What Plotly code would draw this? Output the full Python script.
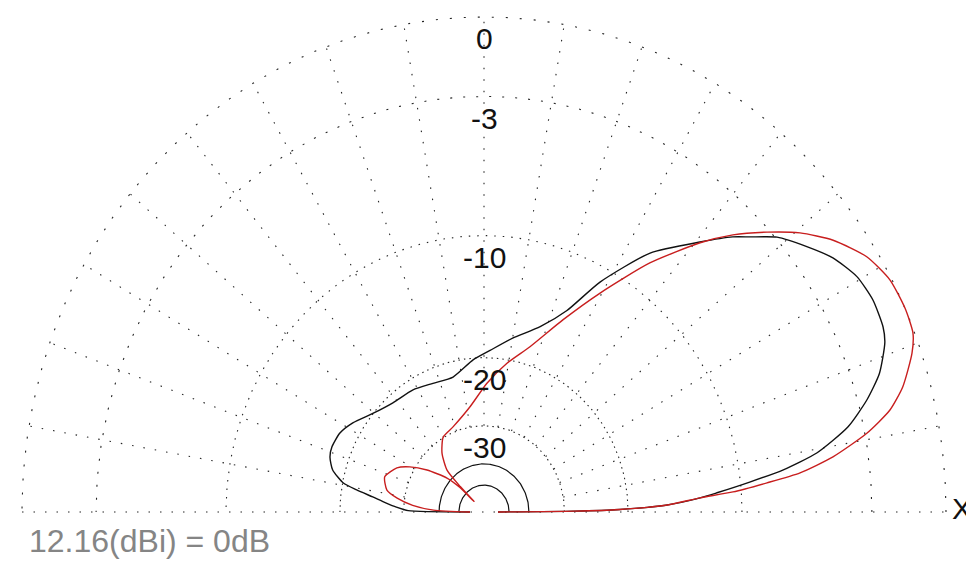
import numpy as np
import plotly.graph_objects as go

# elevation angle (deg) and relative gain (dB) for the two patterns
black_ang = [0, 0.5, 1, 2, 3.5, 4.4, 6.0, 7.5, 9.4, 12.3, 15.3, 18.1, 21.5, 23.4, 27.0,
             30.5, 34.2, 37.5, 41.2, 44.0, 45.9, 49.4, 55.5, 61.6, 66.2, 72.0, 80.0,
             87.7, 94.4, 103.8, 113.0, 121.9, 131.8, 140.2, 147.6, 152.9, 158.2, 161.6,
             165.5, 169.1, 170.8, 172.8, 175.0, 177.0, 179.0, 180]
black_db = [-60, -28, -21, -16, -13.0, -11.7, -9.4, -7.3, -5.4, -3.7, -2.6, -1.8, -1.2, -1.04,
            -0.98, -1.12, -1.56, -2.18, -2.93, -3.83, -4.4, -5.68, -7.8, -10.96, -13.9, -16.0,
            -17.7, -19.2, -20.2, -21.8, -21.7, -21.2, -20.9, -20.0, -18.7, -18.0, -17.8, -17.95,
            -18.6, -20.1, -21.9, -24.3, -26.5, -28.5, -31, -60]

red_ang = [0, 0.5, 1, 2, 3.5, 4.3, 5.5, 6.6, 8.4, 10.9, 13.2, 15.6, 19.1, 21.3, 24.3, 28.1,
           31.9, 36.0, 39.5, 42.7, 46.1, 49.3, 54.5, 60.4, 66.2, 73.4, 80.6, 88.6, 98.1,
           111.3, 120.3, 127.4, 133.4, 135.0, 135.5, 136.5, 139.4, 145.5, 150.4, 154.7,
           161.7, 168.1, 171.5, 175.0, 178.0, 180]
red_db = [-60, -28, -21, -16, -13.0, -10.56, -8.33, -6.4, -4.63, -2.9, -1.76, -1.04, -0.34,
          -0.06, 0, -0.07, -0.42, -1.17, -2.07, -3.12, -4.33, -5.7, -8.26, -11.6, -14.7,
          -18.1, -20.4, -23.1, -26.4, -29.0, -29.9, -32.6, -36.9, -45, -60, -45, -38.6,
          -32.6, -29.0, -26.9, -25.5, -26.4, -28.5, -32, -38, -60]

ring_db = [0, -3, -10, -20, -30]
ring_labels = ["0", "-3", "-10", "-20", "-30"]
ring_dash = ["2px,12px", "2px,11px", "1.5px,7px", "1.5px,4px", "1.5px,4px"]
solid_ring_db = [-40, -50]
spoke_ang = list(range(10, 180, 10))
max_gain = "12.16(dBi) = 0dB"

# page body keeps an 8px margin, so the figure is sized/ranged to sit from pixel 8
CX, CY, SX, SY, OFF = 484, 512, 462, 495, 8


def arrl_r(db):
    # ARRL log scale: radius shrinks by 0.89 every 2 dB
    return 0.89 ** (-np.asarray(db, dtype=float) / 2)


def to_xy(ang, db):
    r = arrl_r(db)
    a = np.radians(ang)
    return r * np.cos(a), r * np.sin(a)


fig = go.Figure()
grid_col = "#262626"

half = np.linspace(0, 180, 181)
for db, dsh in zip(ring_db, ring_dash):
    x, y = to_xy(half, np.full_like(half, db))
    fig.add_trace(go.Scatter(x=x, y=y, mode="lines", hoverinfo="skip",
                             line=dict(color=grid_col, width=1.1, dash=dsh)))

for db in solid_ring_db:
    x, y = to_xy(half, np.full_like(half, db))
    fig.add_trace(go.Scatter(x=x, y=y, mode="lines",
                             line=dict(color="#111", width=1.2), hoverinfo="skip"))

r_in, r_out = arrl_r(-30), arrl_r(0)
for a in spoke_ang:
    t = np.radians(a)
    fig.add_trace(go.Scatter(x=[r_in * np.cos(t), r_out * np.cos(t)],
                             y=[r_in * np.sin(t), r_out * np.sin(t)],
                             mode="lines", hoverinfo="skip",
                             line=dict(color=grid_col, width=1.1, dash="1.5px,10px")))

fig.add_trace(go.Scatter(x=[-1, 1], y=[0, 0], mode="lines", hoverinfo="skip",
                         line=dict(color=grid_col, width=1.1, dash="1.5px,10px")))

bx, by = to_xy(black_ang, black_db)
fig.add_trace(go.Scatter(x=bx, y=by, mode="lines",
                         line=dict(color="#111", width=1.4, shape="spline", smoothing=0.6)))
rx, ry = to_xy(red_ang, red_db)
fig.add_trace(go.Scatter(x=rx, y=ry, mode="lines",
                         line=dict(color="#c81e1e", width=1.4, shape="spline", smoothing=0.6)))

lbl_font = dict(family="Liberation Sans, Arial", size=30, color="#111")
for db, txt in zip(ring_db, ring_labels):
    fig.add_annotation(x=0.002, y=float(arrl_r(db)) - 0.044, text=txt, showarrow=False,
                       xanchor="center", yanchor="middle", font=lbl_font)

fig.add_annotation(x=(962 - CX) / SX, y=(CY - 508) / SY, text="X", showarrow=False,
                   xanchor="center", yanchor="middle", font=lbl_font)
fig.add_annotation(x=(27 - CX) / SX, y=(CY - 541) / SY, text=max_gain, showarrow=False,
                   xanchor="left", yanchor="middle",
                   font=dict(family="Liberation Sans, Arial", size=32, color="#858585"))

fig.update_xaxes(range=[(OFF - CX) / SX, (974 - CX) / SX], visible=False, fixedrange=True)
fig.update_yaxes(range=[(CY - 563) / SY, (CY - OFF) / SY], visible=False, fixedrange=True)
fig.update_layout(width=974 - OFF, height=563 - OFF, margin=dict(l=0, r=0, t=0, b=0),
                  showlegend=False, template=None,
                  paper_bgcolor="white", plot_bgcolor="white")

fig.write_html("out.html")
